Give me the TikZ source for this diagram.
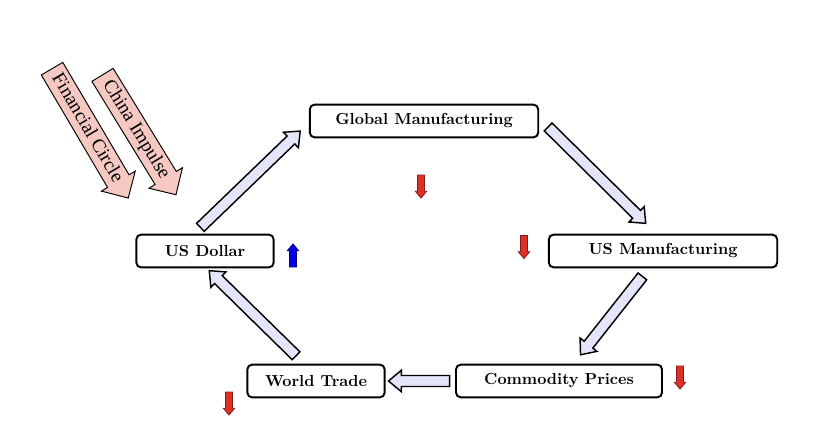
\documentclass[tikz,border=0pt]{standalone}
\usepackage{fontspec}
\newfontfamily\driverfont{Liberation Serif}
\usetikzlibrary{shapes.arrows}
\definecolor{flowfill}{RGB}{228,228,250}
\definecolor{driverfill}{RGB}{245,200,194}
\definecolor{downred}{RGB}{222,48,38}
\definecolor{upblue}{RGB}{0,0,225}
\begin{document}
\begin{tikzpicture}[x=0.022cm, y=-0.022cm,
    factor/.style = {rectangle, rounded corners=3pt, draw, line width=1.2pt,
                     minimum height=20.5pt, font=\bfseries},
    flow/.style = {single arrow, draw, line width=0.9pt, fill=flowfill,
                   inner sep=0pt, inner ysep=3pt, single arrow head extend=3.3pt,
                   single arrow tip angle=80, sloped, allow upside down},
    driver/.style = {single arrow, draw, line width=0.6pt, fill=driverfill,
                     inner xsep=2pt, inner ysep=2.5pt, text height=8pt, text depth=2pt,
                     single arrow head extend=4.5pt, font=\driverfont\large},
    trend/.style = {single arrow, draw, line width=0.5pt, inner sep=0pt,
                    inner ysep=1.9pt, single arrow head extend=1.4pt,
                    single arrow tip angle=80, minimum height=14.4pt}]
  \useasboundingbox (0, 0) rectangle (828, 431);

  % Factors.
  \node at (424, 121) [factor, minimum width=143pt, name=GlobalMfg] {Global Manufacturing};
  \node at (663, 251) [factor, minimum width=143pt, name=USMfg] {US Manufacturing};
  \node at (559, 381) [factor, minimum width=129pt, name=Commodity] {Commodity Prices};
  \node at (316, 381) [factor, minimum width=86pt, name=WorldTrade] {World Trade};
  \node at (205, 251) [factor, minimum width=86pt, name=USDollar] {US Dollar};

  % Outside drivers.
  \node at (87, 128) [driver, rotate=-59.5, minimum height=94pt, name=FinCircle] {Financial Circle};
  \node at (136, 129.5) [driver, rotate=-58.5, minimum height=88pt, name=ChinaImpulse] {China Impulse};

  % Flows round the cycle.
  \path ([shift={(-6, -5)}]USDollar.north)
        to node [flow, minimum height=86.8pt] {}
        ([shift={(-12, -4)}]GlobalMfg.south west);
  \path ([shift={(7, 4)}]GlobalMfg.east)
        to node [flow, minimum height=85.9pt] {}
        ([shift={(-20, -13)}]USMfg.north);
  \path ([shift={(-19, 6)}]USMfg.south)
        to node [flow, minimum height=62.5pt] {}
        ([shift={(24, -12)}]Commodity.north);
  \path ([shift={(-3, 0)}]Commodity.west)
        to node [flow, minimum height=38.2pt] {}
        ([shift={(7, 0)}]WorldTrade.east);
  \path ([shift={(-18, -6)}]WorldTrade.north)
        to node [flow, minimum height=76.1pt] {}
        ([shift={(7, 5)}]USDollar.south);

  % Trends.
  \node at (421, 184.5) [trend, rotate=-90, fill=downred, draw=downred!60!black, name=GlobalTrend] {};
  \node at (524, 245) [trend, rotate=-90, fill=downred, draw=downred!60!black, name=USMfgTrend] {};
  \node at (680, 375.5) [trend, rotate=-90, fill=downred, draw=downred!60!black, name=CommodityTrend] {};
  \node at (229, 401.5) [trend, rotate=-90, fill=downred, draw=downred!60!black, name=TradeTrend] {};
  \node at (293, 257.5) [trend, rotate=90, fill=upblue, draw=upblue!60!black, name=DollarTrend] {};
\end{tikzpicture}
\end{document}
